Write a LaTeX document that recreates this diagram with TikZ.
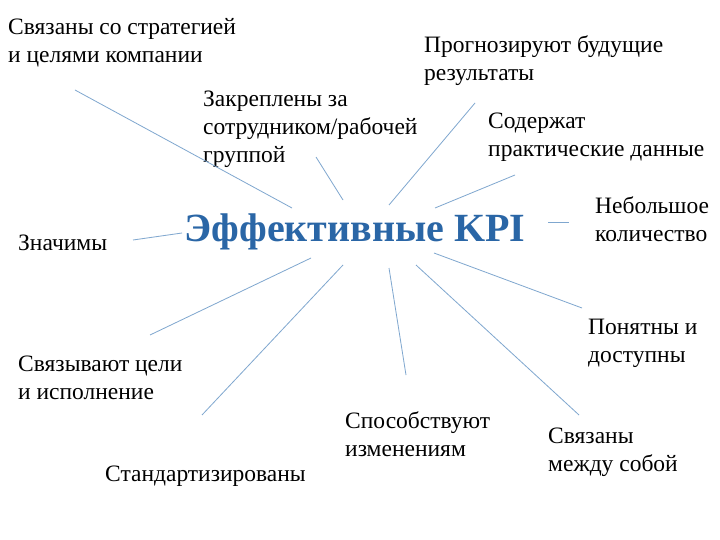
\documentclass[tikz,border=0pt]{standalone}
\usepackage{fontspec}
\setmainfont{Liberation Serif}
\definecolor{kpiblue}{HTML}{2A66A6}
\definecolor{linec}{HTML}{7FA7CF}
\begin{document}
\begin{tikzpicture}[x=1pt,y=-1pt,
  lbl/.style={anchor=north west,inner sep=0pt,align=left,font=\fontsize{23.5}{28}\selectfont},
  conn/.style={draw=linec,line width=0.8pt}]
\useasboundingbox[fill=white] (0,0) rectangle (720,540);
\node[lbl] (t1) at (8,18) {Связаны со стратегией\\и целями компании};
\node[lbl] (t2) at (424,35) {Прогнозируют будущие\\результаты};
\node[lbl] (t3) at (203,91) {Закреплены за\\сотрудником/рабочей\\группой};
\node[lbl] (t4) at (488,113) {Содержат\\практические данные};
\node[lbl] (t5) at (595,196) {Небольшое\\количество};
\node[lbl] (t6) at (18,235) {Значимы};
\node[lbl] (t7) at (588,319) {Понятны и\\доступны};
\node[lbl] (t8) at (18,356) {Связывают цели\\и исполнение};
\node[lbl] (t9) at (345,411) {Способствуют\\изменениям};
\node[lbl] (t10) at (548,428) {Связаны\\между собой};
\node[lbl] (t11) at (105,466) {Стандартизированы};
\node[inner sep=0pt,font=\fontsize{40}{40}\selectfont\bfseries,text=kpiblue] (c) at (355,232) {Эффективные KPI};
\foreach \n/\a/\b in {1/{75,90}/{292,208},2/{316,157}/{343,200},3/{475,103}/{389,205},
  4/{515,175}/{435,208},5/{548,222}/{569,222},6/{133,240}/{182,233},7/{150,335}/{311,258},
  8/{202,415}/{343,265},9/{406,375}/{389,268},10/{579,415}/{416,265},11/{582,308}/{434,253}}{
  \coordinate (a\n) at (\a); \coordinate (b\n) at (\b);
  \draw[conn] (a\n) -- (b\n);}
\end{tikzpicture}
\end{document}
